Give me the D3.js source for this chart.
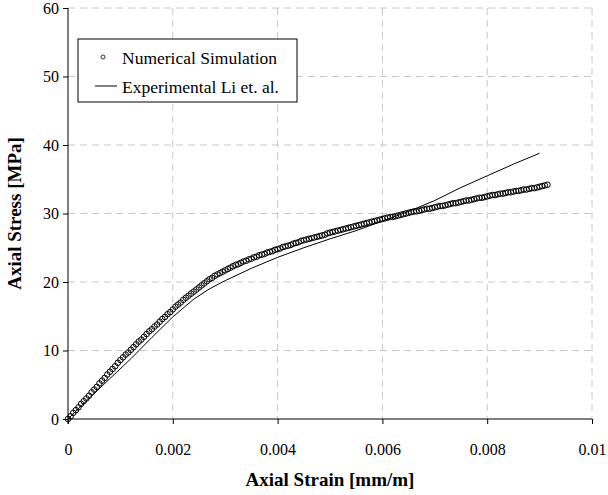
<!DOCTYPE html>
<html>
<head>
<meta charset="utf-8">
<script src="https://cdn.jsdelivr.net/npm/d3@7"></script>
<style>
  body { margin: 0; background: #fff; }
  .grid line { stroke: #c8c8c8; stroke-dasharray: 7,5; }
  .axis path, .axis line { stroke: #000; }
</style>
</head>
<body>
<div id="chart"></div>
<script>
// numerical simulation, strain [mm/m] and stress [MPa]
var simStrain = [
  0, .00005, .0001, .00015, .0002, .00025, .0003, .00035, .0004, .00045,
  .0005, .00055, .0006, .00065, .0007, .00075, .0008, .00085, .0009, .00095,
  .001, .00105, .0011, .00115, .0012, .00125, .0013, .00135, .0014, .00145,
  .0015, .00155, .0016, .00165, .0017, .00175, .0018, .00185, .0019, .00195,
  .002, .00205, .0021, .00215, .0022, .00225, .0023, .00235, .0024, .00245,
  .0025, .00255, .0026, .00265, .0027, .00275, .0028, .00285, .0029, .00295,
  .003, .00305, .0031, .00315, .0032, .00325, .0033, .00335, .0034, .00345,
  .0035, .00355, .0036, .00365, .0037, .00375, .0038, .00385, .0039, .00395,
  .004, .00405, .0041, .00415, .0042, .00425, .0043, .00435, .0044, .00445,
  .0045, .00455, .0046, .00465, .0047, .00475, .0048, .00485, .0049, .00495,
  .005, .00505, .0051, .00515, .0052, .00525, .0053, .00535, .0054, .00545,
  .0055, .00555, .0056, .00565, .0057, .00575, .0058, .00585, .0059, .00595,
  .006, .00605, .0061, .00615, .0062, .00625, .0063, .00635, .0064, .00645,
  .0065, .00655, .0066, .00665, .0067, .00675, .0068, .00685, .0069, .00695,
  .007, .00705, .0071, .00715, .0072, .00725, .0073, .00735, .0074, .00745,
  .0075, .00755, .0076, .00765, .0077, .00775, .0078, .00785, .0079, .00795,
  .008, .00805, .0081, .00815, .0082, .00825, .0083, .00835, .0084, .00845,
  .0085, .00855, .0086, .00865, .0087, .00875, .0088, .00885, .0089, .00895,
  .009, .00905, .0091, .00915
];
var simStress = [
  0.0, 0.4, 0.9, 1.3, 1.7, 2.2, 2.6, 3.0, 3.4, 3.9,
  4.3, 4.7, 5.2, 5.6, 6.0, 6.5, 6.9, 7.3, 7.7, 8.2,
  8.6, 9.0, 9.4, 9.7, 10.1, 10.5, 10.9, 11.3, 11.6, 12.0,
  12.4, 12.8, 13.1, 13.5, 13.8, 14.2, 14.6, 14.9, 15.3, 15.6,
  16.0, 16.4, 16.7, 17.0, 17.4, 17.7, 18.0, 18.3, 18.6, 18.9,
  19.2, 19.5, 19.8, 20.1, 20.4, 20.6, 20.9, 21.1, 21.3, 21.5,
  21.7, 21.9, 22.1, 22.3, 22.5, 22.6, 22.8, 23.0, 23.1, 23.3,
  23.4, 23.6, 23.7, 23.9, 24.0, 24.1, 24.3, 24.4, 24.5, 24.7,
  24.8, 24.9, 25.1, 25.2, 25.3, 25.4, 25.6, 25.7, 25.8, 26.0,
  26.1, 26.2, 26.3, 26.4, 26.5, 26.6, 26.7, 26.8, 26.9, 27.1,
  27.2, 27.3, 27.4, 27.5, 27.6, 27.7, 27.8, 27.9, 28.0, 28.1,
  28.2, 28.3, 28.4, 28.5, 28.6, 28.7, 28.8, 28.9, 29.0, 29.1,
  29.2, 29.3, 29.4, 29.5, 29.5, 29.6, 29.7, 29.8, 29.9, 30.0,
  30.1, 30.2, 30.3, 30.3, 30.4, 30.5, 30.6, 30.7, 30.7, 30.8,
  30.9, 31.0, 31.1, 31.1, 31.2, 31.3, 31.4, 31.5, 31.5, 31.6,
  31.7, 31.8, 31.9, 31.9, 32.0, 32.1, 32.2, 32.3, 32.3, 32.4,
  32.5, 32.6, 32.7, 32.7, 32.8, 32.9, 32.9, 33.0, 33.1, 33.1,
  33.2, 33.3, 33.3, 33.4, 33.5, 33.5, 33.6, 33.7, 33.7, 33.8,
  33.9, 34.0, 34.1, 34.2
];

// experimental curve (Li et al.)
var expStrain = [0, .0004, .0008, .0012, .0016, .002, .0024, .0027, .003,
  .0035, .004, .0045, .005, .0055, .006, .0065, .007, .0075, .008, .0085, .009];
var expStress = [0, 3.0, 5.9, 8.8, 11.9, 14.9, 17.5, 19.0, 20.2,
  22.0, 23.6, 25.0, 26.3, 27.5, 28.9, 30.3, 31.9, 33.8, 35.5, 37.2, 38.8];

var xTicks = [0, 0.002, 0.004, 0.006, 0.008, 0.01];
var yTicks = [0, 10, 20, 30, 40, 50, 60];
var seriesNames = ["Numerical Simulation", "Experimental Li et. al."];

var serif = "'Liberation Serif'";

var margin = {top: 8, right: 16, bottom: 76, left: 68},
    width = 608 - margin.left - margin.right,
    height = 495 - margin.top - margin.bottom;

var x = d3.scaleLinear().domain([0, 0.01]).range([0, width]);
var y = d3.scaleLinear().domain([0, 60]).range([height, 0]);

var svg = d3.select("#chart").append("svg")
    .attr("width", 608)
    .attr("height", 495)
  .append("g")
    .attr("transform", "translate(" + margin.left + "," + margin.top + ")");

// dashed grid
svg.append("g").attr("class", "grid")
  .selectAll("line.h").data(yTicks.slice(1)).enter().append("line")
    .attr("x1", 0).attr("x2", width)
    .attr("y1", function(d) { return y(d); })
    .attr("y2", function(d) { return y(d); });
svg.append("g").attr("class", "grid")
  .selectAll("line.v").data(xTicks.slice(1)).enter().append("line")
    .attr("y1", 0).attr("y2", height)
    .attr("x1", function(d) { return x(d); })
    .attr("x2", function(d) { return x(d); });

// axes
var xAxis = svg.append("g").attr("class", "axis")
    .attr("transform", "translate(0," + height + ")")
    .call(d3.axisBottom(x).tickValues(xTicks).tickSize(5).tickSizeOuter(0)
      .tickFormat(function(d) { return d === 0 ? "0" : d3.format("")(+d.toFixed(3)); }));
xAxis.attr("font-family", serif).attr("font-size", 16);
xAxis.selectAll("text").attr("dy", "1.75em");
xAxis.select(".domain").attr("d", "M0,0H" + width);

var yAxis = svg.append("g").attr("class", "axis")
    .call(d3.axisLeft(y).tickValues(yTicks).tickSize(5).tickSizeOuter(0));
yAxis.attr("font-family", serif).attr("font-size", 16);
yAxis.selectAll("text").attr("x", -9);
yAxis.select(".domain").attr("d", "M0,0V" + (height + 5));

// experimental line
var expData = expStrain.map(function(d, i) { return [d, expStress[i]]; });
svg.append("path")
    .datum(expData)
    .attr("fill", "none")
    .attr("stroke", "#000")
    .attr("stroke-width", 1)
    .attr("d", d3.line()
      .x(function(d) { return x(d[0]); })
      .y(function(d) { return y(d[1]); }));

// simulation markers
svg.append("g").selectAll("circle")
    .data(simStrain)
    .enter().append("circle")
    .attr("cx", function(d) { return x(d); })
    .attr("cy", function(d, i) { return y(simStress[i]); })
    .attr("r", 2.8)
    .attr("fill", "none")
    .attr("stroke", "#000")
    .attr("stroke-width", 1);

// legend
var legend = svg.append("g").attr("transform", "translate(10,31)");
legend.append("rect")
    .attr("width", 219).attr("height", 63)
    .attr("fill", "#fff").attr("stroke", "#000").attr("stroke-width", 1);
legend.append("circle")
    .attr("cx", 25).attr("cy", 18).attr("r", 2)
    .attr("fill", "none").attr("stroke", "#000").attr("stroke-width", 0.8);
legend.append("line")
    .attr("x1", 17).attr("x2", 39).attr("y1", 47).attr("y2", 47)
    .attr("stroke", "#000").attr("stroke-width", 1);
legend.selectAll("text.leg").data(seriesNames).enter().append("text")
    .attr("x", 44)
    .attr("y", function(d, i) { return 25 + i * 29; })
    .style("font-family", serif)
    .style("font-size", "17.5px")
    .text(function(d) { return d; });

// axis titles
svg.append("text")
    .attr("transform", "rotate(-90)")
    .attr("x", -height / 2)
    .attr("y", -47)
    .attr("text-anchor", "middle")
    .style("font-family", serif)
    .style("font-size", "19px").style("font-weight", "bold")
    .text("Axial Stress [MPa]");
svg.append("text")
    .attr("x", width / 2)
    .attr("y", height + 67)
    .attr("text-anchor", "middle")
    .style("font-family", serif)
    .style("font-size", "19px").style("font-weight", "bold")
    .text("Axial Strain [mm/m]");
</script>
</body>
</html>
